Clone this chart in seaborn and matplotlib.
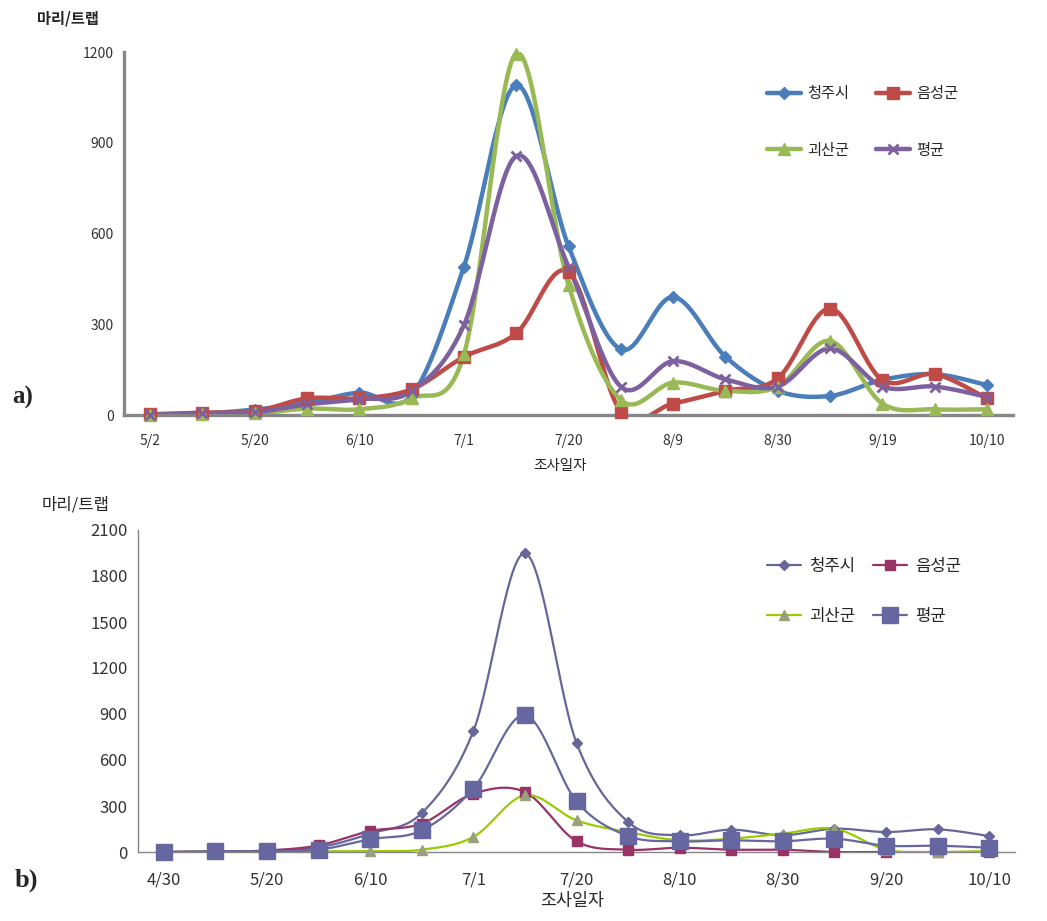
import numpy as np
import pandas as pd
import matplotlib
matplotlib.use('Agg')
import matplotlib.pyplot as plt
import seaborn as sns
from matplotlib.lines import Line2D

# survey dates (17 surveys), only every second one is labelled
labels_a = ['5/2', '5/20', '6/10', '7/1', '7/20', '8/9', '8/30', '9/19', '10/10']
labels_b = ['4/30', '5/20', '6/10', '7/1', '7/20', '8/10', '8/30', '9/20', '10/10']
series_names = ['청주시', '음성군', '괴산군', '평균']

# a) values (마리/트랩)
cheongju_a = [3, 5, 18, 40, 74, 65, 490, 1090, 558, 217, 390, 193, 80, 63, 116, 135, 99]
eumseong_a = [2, 8, 12, 55, 55, 85, 192, 270, 473, 11, 38, 80, 121, 352, 116, 135, 55]
goesan_a = [0, 2, 5, 21, 19, 55, 200, 1195, 430, 50, 107, 80, 94, 245, 38, 19, 19]
mean_a = [1, 5, 9, 35, 52, 79, 297, 856, 490, 94, 178, 118, 94, 220, 94, 94, 60]

# b) values (마리/트랩)
cheongju_b = [0, 3, 8, 30, 120, 254, 788, 1948, 712, 196, 109, 146, 109, 152, 130, 148, 104]
eumseong_b = [0, 3, 10, 43, 137, 185, 380, 391, 70, 15, 28, 15, 15, 0, 0, 0, 0]
goesan_b = [0, 0, 3, 4, 6, 15, 98, 370, 206, 130, 76, 87, 120, 152, 15, 0, 7]
mean_b = [0, 5, 5, 15, 83, 141, 413, 892, 330, 104, 70, 76, 70, 87, 41, 41, 28]


def smooth(y, n=30):
    # Excel style smoothed line (Catmull-Rom as Bezier)
    y = np.asarray(y, float)
    x = np.arange(len(y), dtype=float)
    p = np.column_stack([x, y])
    p = np.vstack([p[0], p, p[-1]])
    t = np.linspace(0, 1, n)[:, None]
    out = []
    for i in range(1, len(p) - 2):
        p0, p1, p2, p3 = p[i - 1], p[i], p[i + 1], p[i + 2]
        c1 = p1 + (p2 - p0) / 6
        c2 = p2 - (p3 - p1) / 6
        seg = ((1 - t) ** 3) * p1 + 3 * ((1 - t) ** 2) * t * c1 + 3 * (1 - t) * t ** 2 * c2 + t ** 3 * p2
        out.append(seg if i == 1 else seg[1:])
    out = np.vstack(out)
    return out[:, 0], out[:, 1]


def draw_panel(ax, data, styles, lw, ymax, labels, axis_lw, fs):
    handles = []
    for name, vals, (color, mk, ms, mfc) in zip(series_names, data, styles):
        sx, sy = smooth(vals)
        sns.lineplot(x=sx, y=sy, ax=ax, color=color, lw=lw, sort=False, estimator=None)
        ax.plot(np.arange(len(vals)), vals, ls='none', marker=mk, ms=ms, color=color,
                mfc=mfc, mec=mfc if mk != 'x' else color, mew=2 if mk == 'x' else 1,
                clip_on=False, zorder=5)
        handles.append(Line2D([], [], color=color, lw=lw, marker=mk, ms=ms, mfc=mfc,
                              mec=mfc if mk != 'x' else color, mew=2 if mk == 'x' else 1))
    ax.set_xlim(-0.5, 16.5)
    ax.set_ylim(0, ymax)
    ax.set_yticks(np.arange(0, ymax + 1, 300))
    ax.set_xticks(np.arange(0, 17, 2))
    ax.set_xticklabels(labels)
    ax.set_xticks(np.arange(-0.5, 17, 1), minor=True)
    ax.tick_params(axis='x', which='major', length=0, pad=14, labelsize=fs, colors='#333333')
    ax.tick_params(axis='x', which='minor', direction='in', length=6, width=1.5, color='#868686')
    ax.tick_params(axis='y', direction='out', length=4, width=1, color='#868686',
                   labelsize=fs, colors='#333333')
    for s in ['top', 'right']:
        ax.spines[s].set_visible(False)
    for s in ['left', 'bottom']:
        ax.spines[s].set_color('#868686')
        ax.spines[s].set_linewidth(axis_lw)
    ax.set_xlabel('')
    ax.set_ylabel('')
    return handles


sns.set_style('white')
plt.rcParams['font.family'] = ['Noto Sans CJK KR', 'DejaVu Sans']

fig = plt.figure(figsize=(10.47, 9.21), dpi=100)
ax_a = fig.add_axes([124 / 1047, 1 - 415 / 921, 889 / 1047, 363 / 921])
ax_b = fig.add_axes([138 / 1047, 1 - 852 / 921, 877 / 1047, 322 / 921])

styles_a = [('#4A7EBB', 'D', 6.5, '#4A7EBB'),
            ('#BE4B48', 's', 8, '#BE4B48'),
            ('#98B954', '^', 8.5, '#98B954'),
            ('#7D60A0', 'x', 7, '#7D60A0')]
styles_b = [('#666699', 'D', 5.5, '#666699'),
            ('#993366', 's', 6.5, '#993366'),
            ('#99CC00', '^', 7.5, '#9AA07A'),
            ('#6666A0', 's', 11.5, '#6666A0')]

h_a = draw_panel(ax_a, [cheongju_a, eumseong_a, goesan_a, mean_a], styles_a, 3.2, 1200,
                 labels_a, 2.4, 10)
h_b = draw_panel(ax_b, [cheongju_b, eumseong_b, goesan_b, mean_b], styles_b, 1.6, 2100,
                 labels_b, 1.0, 12)

# legend is filled column by column, so reorder to get rows 청주시/음성군, 괴산군/평균
order = [0, 2, 1, 3]
ax_a.legend([h_a[i] for i in order], [series_names[i] for i in order], ncol=2,
            frameon=False, loc='upper left', bbox_to_anchor=(0.715, 0.93), fontsize=11,
            handlelength=2.2, handletextpad=0.4, columnspacing=1.8, labelspacing=2.6,
            borderpad=0)
ax_b.legend([h_b[i] for i in order], [series_names[i] for i in order], ncol=2,
            frameon=False, loc='upper left', bbox_to_anchor=(0.708, 0.94), fontsize=12,
            handlelength=2.0, handletextpad=0.5, columnspacing=1.1, labelspacing=2.0,
            borderpad=0)

fig.text(37 / 1047, 1 - 18 / 921, '마리/트랩', fontsize=11, fontweight='bold', va='center')
fig.text(42 / 1047, 1 - 505 / 921, '마리/트랩', fontsize=12, va='center')
fig.text(560 / 1047, 1 - 466 / 921, '조사일자', fontsize=10.5, ha='center', va='center')
fig.text(572 / 1047, 1 - 901 / 921, '조사일자', fontsize=12.5, ha='center', va='center')
fig.text(12 / 1047, 1 - 397 / 921, 'a)', fontsize=18, fontweight='bold',
         family='Liberation Serif', va='center')
fig.text(15 / 1047, 1 - 880 / 921, 'b)', fontsize=19, fontweight='bold',
         family='Liberation Serif', va='center')

fig.savefig('out.png', dpi=100)
